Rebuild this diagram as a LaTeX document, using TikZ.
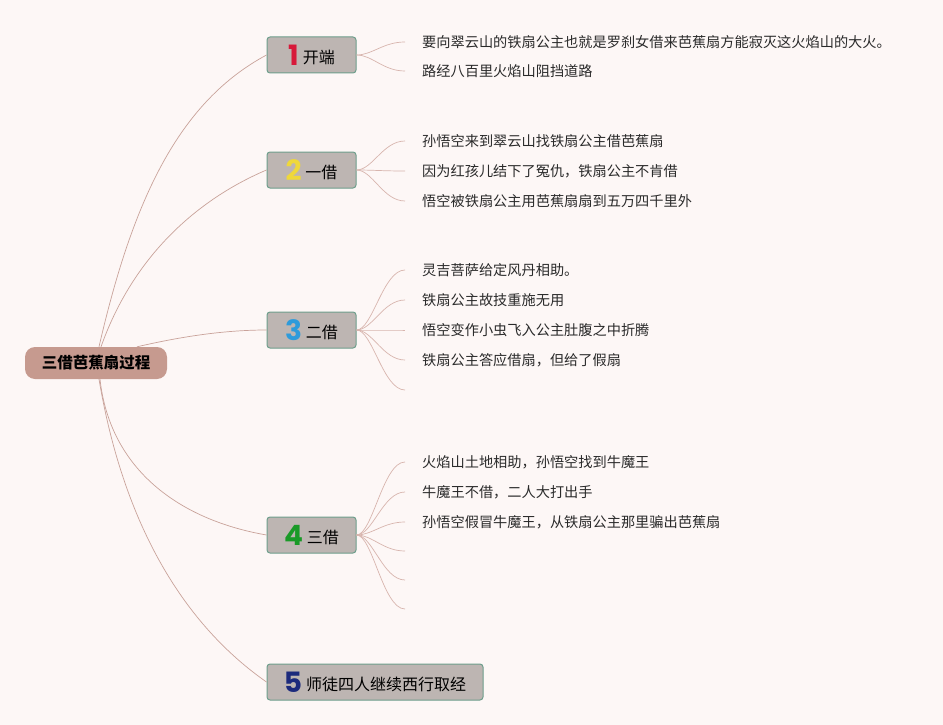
\documentclass[tikz,border=0pt]{standalone}
\usepackage{fontspec}
\setmainfont{Noto Sans CJK SC}
\newfontfamily\digitfont{Poppins}
\usetikzlibrary{calc}
\definecolor{bgc}{HTML}{FDF7F6}
\definecolor{rootc}{HTML}{C69A8F}
\definecolor{boxc}{HTML}{BDB5B2}
\definecolor{bordc}{HTML}{6E9E8C}
\definecolor{linec}{HTML}{C9A29A}
\definecolor{leafc}{HTML}{D8B5AE}
\definecolor{leaftext}{HTML}{2A2A2A}
\definecolor{dA}{HTML}{D7193A}
\definecolor{dB}{HTML}{EFD83A}
\definecolor{dC}{HTML}{2E9BDB}
\definecolor{dD}{HTML}{1A9A28}
\definecolor{dE}{HTML}{1C2A7C}
\newcommand{\dig}[3]{{\digitfont\bfseries\fontsize{28}{28}\selectfont\color{#1}#2}\hspace{4pt}\raisebox{1.8pt}{#3}}
\tikzset{
  rootbox/.style={fill=rootc, rounded corners=10pt, minimum width=142pt, minimum height=32pt, inner sep=0pt,
    font=\fontsize{15.5}{18}\selectfont\bfseries, text=black},
  branchbox/.style={draw=bordc, fill=boxc, line width=1pt, rounded corners=3pt, minimum width=89pt,
    minimum height=36pt, inner sep=0pt, font=\fontsize{16}{18}\selectfont, text=black},
  leafnode/.style={anchor=west, inner sep=0pt, font=\fontsize{14.2}{16}\selectfont, text=leaftext},
  rootlink/.style={draw=linec, line width=0.7pt},
  leaflink/.style={draw=leafc, line width=0.7pt}
}
\begin{document}
\begin{tikzpicture}[x=1pt,y=-1pt]
\fill[bgc] (0,0) rectangle (943,725);
\useasboundingbox (0,0) rectangle (943,725);

% root
\node[rootbox] (root) at (96,363) {三借芭蕉扇过程};

% branches
\node[branchbox] (b1) at (311.5,55) {\dig{dA}{1}{开端}};
\node[branchbox] (b2) at (311.5,170) {\dig{dB}{2}{一借}};
\node[branchbox] (b3) at (311.5,330) {\dig{dC}{3}{二借}};
\node[branchbox] (b4) at (311.5,535) {\dig{dD}{4}{三借}};
\node[branchbox, minimum width=216pt] (b5) at (375,682) {\dig{dE}{5}{师徒四人继续西行取经}};

% root links
\draw[rootlink] ([xshift=3pt]root.north) .. controls (133,199) and (179,102) .. (b1.west);
\draw[rootlink] ([xshift=5pt]root.north) .. controls (135,251) and (203,197) .. (b2.west);
\draw[rootlink] ([xshift=41pt]root.north) .. controls (175,338) and (220,330) .. (b3.west);
\draw[rootlink] ([xshift=4pt]root.south) .. controls (110,470) and (180,520) .. (b4.west);
\draw[rootlink] ([xshift=3pt]root.south) .. controls (124,527) and (185,625) .. (b5.west);

% leaves of branch 1
\node[leafnode] (l11) at (422,42) {要向翠云山的铁扇公主也就是罗刹女借来芭蕉扇方能寂灭这火焰山的大火。};
\node[leafnode] (l12) at (422,71) {路经八百里火焰山阻挡道路};
% leaves of branch 2
\node[leafnode] (l21) at (422,141) {孙悟空来到翠云山找铁扇公主借芭蕉扇};
\node[leafnode] (l22) at (422,171) {因为红孩儿结下了冤仇，铁扇公主不肯借};
\node[leafnode] (l23) at (422,201) {悟空被铁扇公主用芭蕉扇扇到五万四千里外};
% leaves of branch 3
\node[leafnode] (l31) at (422,270) {灵吉菩萨给定风丹相助。};
\node[leafnode] (l32) at (422,300) {铁扇公主故技重施无用};
\node[leafnode] (l33) at (422,330) {悟空变作小虫飞入公主肚腹之中折腾};
\node[leafnode] (l34) at (422,360) {铁扇公主答应借扇，但给了假扇};
\coordinate (l35) at (422,390);
% leaves of branch 4
\node[leafnode] (l41) at (422,462) {火焰山土地相助，孙悟空找到牛魔王};
\node[leafnode] (l42) at (422,492) {牛魔王不借，二人大打出手};
\node[leafnode] (l43) at (422,522) {孙悟空假冒牛魔王，从铁扇公主那里骗出芭蕉扇};
\coordinate (l44) at (422,551);
\coordinate (l45) at (422,580);
\coordinate (l46) at (422,609);

% leaf links
\foreach \b/\l in {b1/l11,b1/l12,b2/l21,b2/l22,b2/l23,b3/l31,b3/l32,b3/l33,b3/l34,b3/l35,
                   b4/l41,b4/l42,b4/l43,b4/l44,b4/l45,b4/l46}{
  \draw[leaflink] (\b.east) .. controls +(16,0) and +(-22,0) .. ([xshift=-17pt]\l.west);
}
\end{tikzpicture}
\end{document}
